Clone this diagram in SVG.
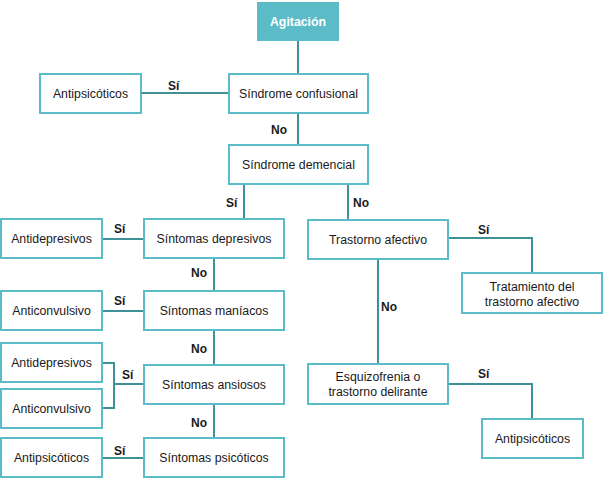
<svg xmlns="http://www.w3.org/2000/svg" width="603" height="479" viewBox="0 0 603 479">
<style>
.box{fill:#fff;stroke:#5bbcc8;stroke-width:2}
.t{font-family:"Liberation Sans",Arial,sans-serif;font-size:12.3px;fill:#1a1a1a;text-anchor:middle}
.lb{font-family:"Liberation Sans",Arial,sans-serif;font-size:12px;font-weight:bold;fill:#1a1a1a}
.c{fill:none;stroke:#3f9198;stroke-width:2}
</style>
<rect width="603" height="479" fill="#fff"/>
<g id="connectors">
<path class="c" d="M298 41V74"/>
<path class="c" d="M141 93H229"/>
<path class="c" d="M298 113V144"/>
<path class="c" d="M244 184V218"/>
<path class="c" d="M348 184V220"/>
<path class="c" d="M102 239H144"/>
<path class="c" d="M214 258V291"/>
<path class="c" d="M102 311H144"/>
<path class="c" d="M214 330V365"/>
<path class="c" d="M102 363H114V408H102"/>
<path class="c" d="M114 384H144"/>
<path class="c" d="M214 404V438"/>
<path class="c" d="M102 458H144"/>
<path class="c" d="M448 238H532V273"/>
<path class="c" d="M378 259V364"/>
<path class="c" d="M448 384H532V419"/>
</g>
<g id="labels">
<text class="lb" x="168" y="90">Sí</text>
<text class="lb" x="271" y="134">No</text>
<text class="lb" x="226" y="207">Sí</text>
<text class="lb" x="353" y="207">No</text>
<text class="lb" x="114" y="233">Sí</text>
<text class="lb" x="191" y="277">No</text>
<text class="lb" x="114" y="305">Sí</text>
<text class="lb" x="191" y="353">No</text>
<text class="lb" x="122" y="379">Sí</text>
<text class="lb" x="191" y="427">No</text>
<text class="lb" x="114" y="455">Sí</text>
<text class="lb" x="478" y="234">Sí</text>
<text class="lb" x="381" y="311">No</text>
<text class="lb" x="478" y="378">Sí</text>
</g>
<g id="agitacion"><rect x="257" y="2" width="82" height="39" fill="#5bbcc8"/><text class="t" x="298" y="26" style="fill:#fff;font-weight:bold">Agitación</text></g>
<g id="confusional"><rect class="box" x="229" y="74" width="139" height="39"/><text class="t" x="298.5" y="98">Síndrome confusional</text></g>
<g id="antipsicoticos1"><rect class="box" x="40" y="74" width="101" height="39"/><text class="t" x="90.5" y="98">Antipsicóticos</text></g>
<g id="demencial"><rect class="box" x="229" y="145" width="139" height="39"/><text class="t" x="298.5" y="169">Síndrome demencial</text></g>
<g id="depresivos"><rect class="box" x="144" y="219" width="140" height="39"/><text class="t" x="214" y="243">Síntomas depresivos</text></g>
<g id="antidepresivos1"><rect class="box" x="1" y="219" width="101" height="39"/><text class="t" x="51.5" y="243">Antidepresivos</text></g>
<g id="maniacos"><rect class="box" x="144" y="291" width="140" height="39"/><text class="t" x="214" y="315">Síntomas maníacos</text></g>
<g id="anticonvulsivo1"><rect class="box" x="1" y="291" width="101" height="39"/><text class="t" x="51.5" y="315">Anticonvulsivo</text></g>
<g id="ansiosos"><rect class="box" x="144" y="365" width="140" height="39"/><text class="t" x="214" y="389">Síntomas ansiosos</text></g>
<g id="antidepresivos2"><rect class="box" x="1" y="343" width="101" height="39"/><text class="t" x="51.5" y="367">Antidepresivos</text></g>
<g id="anticonvulsivo2"><rect class="box" x="1" y="389" width="101" height="39"/><text class="t" x="51.5" y="413">Anticonvulsivo</text></g>
<g id="psicoticos"><rect class="box" x="144" y="438" width="140" height="39"/><text class="t" x="214" y="462">Síntomas psicóticos</text></g>
<g id="antipsicoticos2"><rect class="box" x="1" y="438" width="101" height="39"/><text class="t" x="51.5" y="462">Antipsicóticos</text></g>
<g id="afectivo"><rect class="box" x="308" y="220" width="140" height="39"/><text class="t" x="378" y="244">Trastorno afectivo</text></g>
<g id="tratamiento"><rect class="box" x="462" y="273" width="140" height="40"/><text class="t" x="532" y="291">Tratamiento del</text><text class="t" x="532" y="306">trastorno afectivo</text></g>
<g id="esquizofrenia"><rect class="box" x="308" y="364" width="140" height="40"/><text class="t" x="378" y="381">Esquizofrenia o</text><text class="t" x="378" y="396">trastorno delirante</text></g>
<g id="antipsicoticos3"><rect class="box" x="482" y="419" width="101" height="39"/><text class="t" x="532.5" y="443">Antipsicóticos</text></g>
</svg>
